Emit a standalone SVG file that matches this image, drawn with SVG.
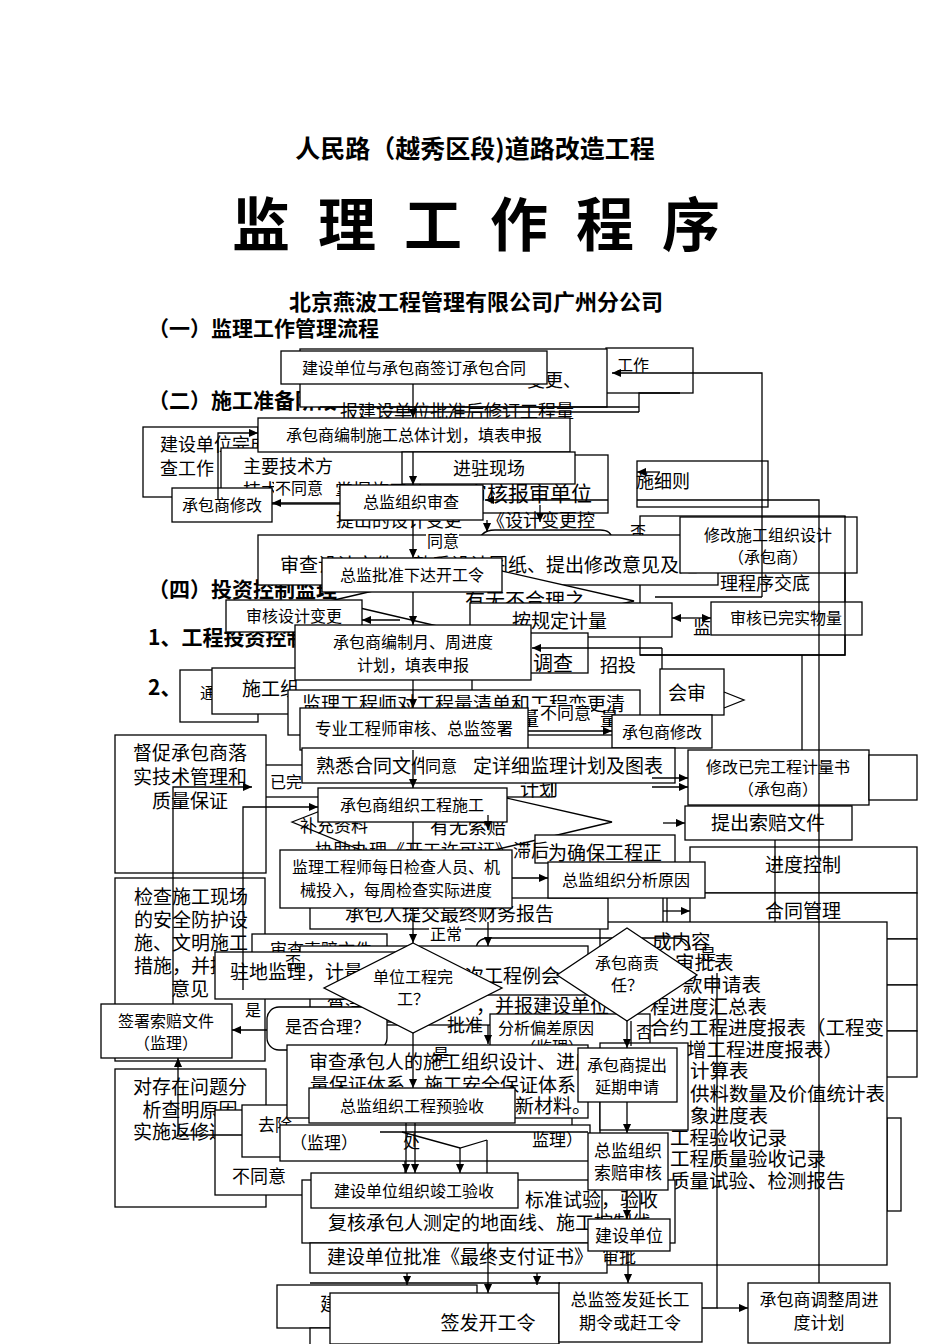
<svg xmlns="http://www.w3.org/2000/svg" width="950" height="1344" viewBox="0 0 950 1344">
<style>
.b{fill:#fff;stroke:#000;stroke-width:1.3}
.n{fill:none;stroke:#000;stroke-width:1.3}
.t{font-family:"Noto Sans CJK SC","Noto Sans CJK JP",sans-serif;fill:#000}
.h{font-weight:bold}
.c{text-anchor:middle}
.e{text-anchor:end}
.f16{font-size:16px}
.f17{font-size:17px}
.f18{font-size:18px}
.f19{font-size:19px}
.f21{font-size:21px}
.w{fill:#fff;stroke:none}
</style>
<defs>
<marker id="a" viewBox="0 0 10 10" refX="10" refY="5" markerWidth="10" markerHeight="9" orient="auto" markerUnits="userSpaceOnUse"><path d="M0,0.5 L10,5 L0,9.5z" fill="#000"/></marker>
</defs>
<rect width="950" height="1344" fill="#fff"/>

<g id="headings">
<text x="475" y="158" class="t h c" font-size="25">人民路（越秀区段)道路改造工程</text>
<g class="t h c" font-size="58">
<text x="261" y="246">监</text><text x="347" y="246">理</text><text x="433" y="246">工</text><text x="519" y="246">作</text><text x="605" y="246">程</text><text x="691" y="246">序</text>
</g>
<text x="476" y="310" class="t h c" font-size="22">北京燕波工程管理有限公司广州分公司</text>
<text x="148" y="336" class="t h f21">（一）监理工作管理流程</text>
<text x="148" y="408" class="t h f21">（二）施工准备阶段</text>
<text x="148" y="597" class="t h f21">（四）投资控制监理</text>
<text x="148" y="645" class="t h f21">1、工程投资控制</text>
<text x="148" y="695" class="t h f21">2、施工</text>
</g>

<g id="bg-upper">
<rect class="b" x="606" y="348" width="87" height="45"/><text x="617" y="371" class="t f16">工作</text>
<rect class="b" x="300" y="349" width="307" height="58"/><text x="527" y="387" class="t f18">变更、</text>
<text x="340" y="418" class="t f18">报建设单位批准后修订工程量</text>
<rect class="b" x="143" y="427" width="115" height="70"/>
<text x="160" y="451" class="t f18">建设单位完成</text><text x="160" y="475" class="t f18">查工作</text>
<rect class="b" x="221" y="448" width="300" height="56"/>
<text x="243" y="473" class="t f18">主要技术方</text><text x="243" y="497" class="t f18">技术</text><text x="335" y="497" class="t f18">掌握施工</text>
<rect class="b" x="420" y="455" width="188" height="58"/><text x="466" y="501" class="t" font-size="21">审核报审单位</text>
<rect class="b" x="637" y="461" width="131" height="46"/><text x="636" y="488" class="t f18">施细则</text>
<rect class="b" x="640" y="516" width="205" height="139"/>
<text x="336" y="527" class="t f18">提出的设计变更</text><text x="487" y="527" class="t f18">《设计变更控</text>
<path class="n" d="M478,548 Q478,530 495,530 L600,530 Q612,530 612,540"/>
<text x="630" y="538" class="t f16">否</text>
<rect class="b" x="258" y="535" width="460" height="50"/>
<text x="280" y="572" class="t f19">审查设计文件</text><text x="698" y="572" class="t f19 e">熟悉设计图纸、提出修改意见及建</text>
<text x="720" y="590" class="t f18">理程序交底</text>
<polygon class="b" points="330,601 480,566 634,601 480,636"/>
<text x="465" y="608" class="t" font-size="20">有无不合理之</text>
<rect class="b" x="470" y="603" width="202" height="34"/><text x="512" y="628" class="t f19">按规定计量</text>
<text x="693" y="634" class="t f18">监</text>
<rect class="b" x="455" y="633" width="133" height="40"/><text x="533" y="671" class="t" font-size="20">调查</text>
<text x="600" y="672" class="t f18">招投</text>
<rect class="b" x="180" y="670" width="78" height="52"/><text x="200" y="699" class="t f16">通</text>
<rect class="b" x="212" y="668" width="260" height="46"/><text x="242" y="696" class="t f19">施工组</text>
<rect class="b" x="660" y="669" width="64" height="46"/><text x="668" y="700" class="t f19">会审</text>
<polyline class="n" points="724,692 744,700 724,708"/>
<rect class="b" x="288" y="690" width="352" height="45"/>
<text x="302" y="711" class="t f19">监理工程师对工程量清单和工程变更清</text>
<text x="520" y="726" class="t f19">量</text><text x="600" y="726" class="t f19">量</text>
<polygon class="b" points="292,822 410,776 612,822 410,870"/>
<rect class="b" x="252" y="765" width="300" height="32"/><text x="270" y="788" class="t f16">已完</text>
<text x="520" y="796" class="t f19">计划</text>
<rect class="b" x="115" y="735" width="151" height="138"/>
<text x="190" y="760" class="t f19 c">督促承包商落</text><text x="190" y="784" class="t f19 c">实技术管理和</text><text x="190" y="808" class="t f19 c">质量保证</text>
<text x="300" y="832" class="t f17">补充资料</text>
<text x="430" y="834" class="t f19">有无索赔</text>
<rect class="b" x="535" y="835" width="140" height="28"/>
<text x="315" y="857" class="t f18">协助办理《开工许可证》滞后</text>
<text x="548" y="860" class="t f19">为确保工程正</text>
</g>

<g id="bg-right">
<rect class="b" x="690" y="847" width="227" height="46"/><text x="803" y="872" class="t f19 c">进度控制</text>
<rect class="b" x="690" y="893" width="227" height="46"/><text x="803" y="918" class="t f19 c">合同管理</text>
<rect class="b" x="690" y="939" width="227" height="46"/>
<rect class="b" x="690" y="985" width="227" height="46"/>
<rect class="b" x="690" y="1031" width="227" height="46"/>
<rect class="b" x="887" y="1118" width="14" height="93"/>
<rect class="b" x="600" y="922" width="287" height="343"/>
<g class="t" font-size="19.5">
<text x="652" y="949">成内容</text>
<text x="675" y="970">审批表</text>
<text x="683" y="992">款申请表</text>
<text x="650" y="1014">程进度汇总表</text>
<text x="650" y="1035">合约工程进度报表（工程变</text>
<text x="687" y="1057">增工程进度报表）</text>
<text x="690" y="1078">计算表</text>
<text x="690" y="1101">供料数量及价值统计表</text>
<text x="690" y="1123">象进度表</text>
<text x="670" y="1145">工程验收记录</text>
<text x="670" y="1166">工程质量验收记录</text>
<text x="670" y="1188">质量试验、检测报告</text>
</g>
</g>

<g id="bg-lower">
<rect class="b" x="310" y="898" width="298" height="31"/><text x="345" y="921" class="t f19">承包人提交最终财务报告</text>
<rect class="b" x="115" y="878" width="150" height="183"/>
<text x="134" y="904" class="t f19">检查施工现场</text><text x="134" y="927" class="t f19">的安全防护设</text><text x="134" y="950" class="t f19">施、文明施工</text><text x="134" y="973" class="t f19">措施，并提出</text><text x="190" y="996" class="t f19 c">意见</text>
<rect class="b" x="252" y="934" width="135" height="30"/><text x="270" y="956" class="t f17">审查索赔文件</text>
<path class="n" d="M476,950 Q476,938 490,938 L675,938 Q690,938 690,950"/>
<rect class="b" x="300" y="946" width="288" height="50"/><text x="465" y="983" class="t f19">次工程例会</text>
<rect class="b" x="330" y="995" width="293" height="30"/><text x="476" y="1013" class="t f19">，并报建设单位</text>
<rect class="b" x="490" y="1014" width="160" height="50"/><text x="498" y="1034" class="t f16">分析偏差原因</text><text x="520" y="1053" class="t f16">（监理）</text>
<rect class="b" x="310" y="990" width="110" height="32"/><text x="327" y="1013" class="t f18">算清</text>
<rect class="b" x="267" y="1007" width="120" height="43" rx="12"/><text x="285" y="1033" class="t f17">是否合理？</text>
<rect class="b" x="215" y="952" width="195" height="47"/>
<text x="230" y="979" class="t f19">驻地监理，计量</text>
<rect class="b" x="115" y="1069" width="151" height="138"/>
<text x="190" y="1094" class="t f19 c">对存在问题分</text><text x="190" y="1117" class="t f19 c">析查明原因</text><text x="190" y="1139" class="t f19 c">实施返修返工</text>
<rect class="b" x="215" y="1110" width="190" height="85"/>
<rect class="b" x="242" y="1105" width="330" height="52"/><text x="258" y="1131" class="t f17">去除</text>
<rect class="b" x="280" y="1125" width="310" height="36"/><text x="290" y="1149" class="t f17">（监理）</text>
<text x="403" y="1148" class="t f17">处</text><text x="532" y="1146" class="t f17">监理）</text>
<rect class="b" x="287" y="1045" width="301" height="73"/>
<text x="309" y="1069" class="t f19">审查承包人的施工组织设计、进度</text>
<text x="310" y="1092" class="t f19">量保证体系、施工安全保证体系</text>
<text x="515" y="1113" class="t f19">新材料。</text>
<rect class="b" x="600" y="1043" width="88" height="87"/>
<rect class="b" x="640" y="1180" width="35" height="63"/>
<rect class="b" x="302" y="1180" width="300" height="63"/>
<text x="328" y="1230" class="t f19">复核承包人测定的地面线、施工控制线</text>
<text x="525" y="1207" class="t f19">标准试验，验收</text>
<rect class="b" x="310" y="1243" width="297" height="30"/>
<text x="327" y="1264" class="t f19">建设单位批准《最终支付证书》</text>
<text x="602" y="1263" class="t f17">审批</text>
<rect class="b" x="277" y="1285" width="200" height="43"/><text x="320" y="1311" class="t f19">建</text>
<rect class="b" x="310" y="1328" width="60" height="20"/>
</g>

<g id="n-contract"><rect class="b" x="281" y="351" width="266" height="33"/><text x="414" y="374" class="t f16 c">建设单位与承包商签订承包合同</text></g>
<g id="n-plan"><rect class="b" x="258" y="418" width="312" height="34"/><text x="414" y="441" class="t f16 c">承包商编制施工总体计划，填表申报</text></g>
<g id="n-enter"><rect class="b" x="402" y="452" width="173" height="32"/><text x="489" y="475" class="t f18 c">进驻现场</text></g>
<g id="n-modify1"><rect class="b" x="172" y="488" width="100" height="34"/><text x="222" y="511" class="t f16 c">承包商修改</text></g>
<g id="n-review"><rect class="b" x="340" y="485" width="143" height="35"/><text x="411" y="508" class="t f16 c">总监组织审查</text></g>
<g id="n-order"><rect class="b" x="322" y="558" width="180" height="34"/><text x="412" y="581" class="t f16 c">总监批准下达开工令</text></g>
<g id="n-modorg"><rect class="b" x="680" y="517" width="177" height="56"/><text x="768" y="541" class="t f16 c">修改施工组织设计</text><text x="768" y="563" class="t f16 c">（承包商）</text></g>
<g id="n-chgrev"><rect class="b" x="226" y="600" width="136" height="32"/><text x="294" y="622" class="t f16 c">审核设计变更</text></g>
<g id="n-qty"><rect class="b" x="711" y="602" width="151" height="33"/><text x="786" y="624" class="t f16 c">审核已完实物量</text></g>
<g id="n-monthplan"><rect class="b" x="295" y="625" width="236" height="55"/><text x="413" y="648" class="t f16 c">承包商编制月、周进度</text><text x="413" y="671" class="t f16 c">计划，填表申报</text></g>
<g id="n-sign"><rect class="b" x="300" y="708" width="228" height="42"/><text x="414" y="735" class="t c" font-size="16.5">专业工程师审核、总监签署</text></g>
<g id="n-modify2"><rect class="b" x="612" y="715" width="100" height="33"/><text x="662" y="738" class="t f16 c">承包商修改</text></g>
<g id="n-familiar"><rect class="b" x="302" y="748" width="373" height="35"/><text x="316" y="773" class="t f19">熟悉合同文件</text><text x="663" y="773" class="t f19 e">定详细监理计划及图表</text></g>
<g id="n-modqty"><rect class="b" x="688" y="750" width="181" height="55"/><rect class="b" x="869" y="755" width="48" height="45"/><text x="778" y="773" class="t f16 c">修改已完工程计量书</text><text x="778" y="795" class="t f16 c">（承包商）</text></g>
<g id="n-build"><rect class="b" x="318" y="788" width="189" height="34"/><text x="412" y="811" class="t f16 c">承包商组织工程施工</text></g>
<g id="n-claim"><rect class="b" x="685" y="806" width="167" height="34"/><text x="768" y="830" class="t f19 c">提出索赔文件</text></g>
<g id="n-daily"><rect class="b" x="280" y="850" width="232" height="58"/><text x="396" y="873" class="t f16 c">监理工程师每日检查人员、机</text><text x="396" y="896" class="t f16 c">械投入，每周检查实际进度</text></g>
<g id="n-analyse"><rect class="b" x="548" y="862" width="157" height="36"/><text x="626" y="886" class="t f16 c">总监组织分析原因</text></g>
<g id="n-done"><polygon class="b" points="413,943 502,988 413,1033 324,988"/><text x="413" y="983" class="t f16 c">单位工程完</text><text x="413" y="1005" class="t f16 c">工？</text></g>
<g id="n-resp"><polygon class="b" points="627,928 697,975 627,1021 557,975"/><text x="627" y="969" class="t f16 c">承包商责</text><text x="627" y="991" class="t f16 c">任？</text></g>
<g id="n-signclaim"><rect class="b" x="101" y="1004" width="131" height="54"/><text x="166" y="1027" class="t f16 c">签署索赔文件</text><text x="166" y="1049" class="t f16 c">（监理）</text></g>
<g id="n-delay"><rect class="b" x="578" y="1048" width="99" height="54"/><text x="627" y="1071" class="t f16 c">承包商提出</text><text x="627" y="1093" class="t f16 c">延期申请</text></g>
<g id="n-preacc"><rect class="b" x="309" y="1088" width="206" height="35"/><text x="412" y="1112" class="t f16 c">总监组织工程预验收</text></g>
<g id="n-claimrev"><rect class="b" x="588" y="1133" width="80" height="57"/><text x="628" y="1157" class="t f17 c">总监组织</text><text x="628" y="1179" class="t f17 c">索赔审核</text></g>
<g id="n-finalacc"><rect class="b" x="311" y="1173" width="207" height="35"/><text x="414" y="1197" class="t f16 c">建设单位组织竣工验收</text></g>
<g id="n-owner"><rect class="b" x="588" y="1219" width="82" height="32"/><text x="629" y="1242" class="t f17 c">建设单位</text></g>
<g id="n-start"><rect class="b" x="330" y="1293" width="229" height="51"/><text x="488" y="1330" class="t f19 c">签发开工令</text></g>
<g id="n-extend"><rect class="b" x="559" y="1283" width="143" height="59"/><text x="630" y="1306" class="t f17 c">总监签发延长工</text><text x="630" y="1329" class="t f17 c">期令或赶工令</text></g>
<g id="n-adjust"><rect class="b" x="748" y="1283" width="142" height="60"/><text x="819" y="1306" class="t f17 c">承包商调整周进</text><text x="819" y="1329" class="t f17 c">度计划</text></g>

<g id="connectors">
<line class="n" x1="413" y1="384" x2="413" y2="418" marker-end="url(#a)"/>
<line class="n" x1="413" y1="452" x2="413" y2="485" marker-end="url(#a)"/>
<line class="n" x1="413" y1="520" x2="413" y2="558" marker-end="url(#a)"/>
<line class="n" x1="413" y1="592" x2="413" y2="625" marker-end="url(#a)"/>
<line class="n" x1="413" y1="680" x2="413" y2="708" marker-end="url(#a)"/>
<line class="n" x1="413" y1="750" x2="413" y2="788" marker-end="url(#a)"/>
<line class="n" x1="413" y1="822" x2="413" y2="850"/>
<line class="n" x1="413" y1="908" x2="413" y2="943" marker-end="url(#a)"/>
<line class="n" x1="413" y1="1033" x2="413" y2="1088" marker-end="url(#a)"/>
<line class="n" x1="406" y1="1123" x2="406" y2="1173" marker-end="url(#a)"/>
<line class="n" x1="415" y1="1123" x2="415" y2="1173" marker-end="url(#a)"/>
<line class="n" x1="340" y1="503" x2="272" y2="503" marker-end="url(#a)"/>
<polyline class="n" points="218,500 218,433 258,433" marker-end="url(#a)"/>
<polyline class="n" points="762,597 762,373 612,373" marker-end="url(#a)"/>
<line class="n" x1="655" y1="597" x2="762" y2="597"/>
<line class="n" x1="320" y1="407" x2="639" y2="407"/>
<line class="n" x1="380" y1="412" x2="639" y2="412"/>
<polyline class="n" points="680,393 639,393 639,412"/>
<line class="n" x1="660" y1="472" x2="637" y2="472" marker-end="url(#a)"/>
<line class="n" x1="608" y1="500" x2="485" y2="500" marker-end="url(#a)"/>
<line class="n" x1="540" y1="505" x2="540" y2="522" marker-end="url(#a)"/>
<line class="n" x1="487" y1="520" x2="487" y2="532" marker-end="url(#a)"/>
<polyline class="n" points="637,500 819,500 819,1283"/>
<line class="n" x1="400" y1="620" x2="362" y2="620" marker-end="url(#a)"/>
<line class="n" x1="690" y1="618" x2="672" y2="618" marker-end="url(#a)"/>
<line class="n" x1="690" y1="618" x2="711" y2="618" marker-end="url(#a)"/>
<line class="n" x1="662" y1="648" x2="532" y2="648" marker-end="url(#a)"/>
<line class="n" x1="662" y1="648" x2="662" y2="669"/>
<line class="n" x1="528" y1="731" x2="612" y2="731" marker-end="url(#a)"/>
<polyline class="n" points="173,1004 173,787 252,787" marker-end="url(#a)"/>
<polyline class="n" points="243,990 243,807 318,807" marker-end="url(#a)"/>
<line class="n" x1="652" y1="778" x2="688" y2="778" marker-end="url(#a)"/>
<line class="n" x1="652" y1="787" x2="688" y2="787" marker-end="url(#a)"/>
<line class="n" x1="663" y1="823" x2="685" y2="823" marker-end="url(#a)"/>
<line class="n" x1="488" y1="815" x2="488" y2="830" marker-end="url(#a)"/>
<line class="n" x1="512" y1="878" x2="548" y2="878" marker-end="url(#a)"/>
<polyline class="n" points="845,516 845,655 640,655"/>
<line class="n" x1="802" y1="655" x2="802" y2="750"/>
<line class="n" x1="775" y1="840" x2="775" y2="922"/>
<line class="n" x1="663" y1="911" x2="690" y2="911" marker-end="url(#a)"/>
<line class="n" x1="663" y1="898" x2="663" y2="922"/>
<line class="n" x1="667" y1="898" x2="667" y2="922"/>
<line class="n" x1="488" y1="922" x2="488" y2="946" marker-end="url(#a)"/>
<line class="n" x1="488" y1="1025" x2="488" y2="1044" marker-end="url(#a)"/>
<line class="n" x1="627" y1="1021" x2="627" y2="1048" marker-end="url(#a)"/>
<line class="n" x1="631" y1="1021" x2="631" y2="1046"/>
<line class="n" x1="627" y1="1102" x2="627" y2="1133" marker-end="url(#a)"/>
<line class="n" x1="627" y1="1190" x2="627" y2="1219" marker-end="url(#a)"/>
<line class="n" x1="628" y1="1251" x2="628" y2="1283" marker-end="url(#a)"/>
<line class="n" x1="267" y1="1030" x2="232" y2="1030" marker-end="url(#a)"/>
<polyline class="n" points="242,1135 178,1135 178,1058" marker-end="url(#a)"/>
<polyline class="n" points="402,1132 460,1148 487,1140"/>
<line class="n" x1="380" y1="1132" x2="588" y2="1132"/>
<line class="n" x1="460" y1="1148" x2="460" y2="1173" marker-end="url(#a)"/>
<line class="n" x1="487" y1="1140" x2="487" y2="1173"/>
<line class="n" x1="407" y1="1273" x2="407" y2="1285" marker-end="url(#a)"/>
<line class="n" x1="537" y1="1273" x2="537" y2="1285" marker-end="url(#a)"/>
<line class="n" x1="488" y1="1243" x2="488" y2="1293" marker-end="url(#a)"/>
<line class="n" x1="310" y1="1283" x2="560" y2="1283"/>
<polyline class="n" points="717,973 717,1308 702,1308"/>
<line class="n" x1="717" y1="1308" x2="748" y2="1308" marker-end="url(#a)"/>
</g>

<g id="labels">
<rect class="w" x="426" y="532" width="33" height="19"/><text x="427" y="547" class="t f16">同意</text>
<rect class="w" x="274" y="478" width="52" height="19"/><text x="275" y="494" class="t f16">不同意</text>
<rect class="w" x="538" y="704" width="53" height="19"/><text x="540" y="719" class="t f17">不同意</text>
<rect class="w" x="424" y="755" width="36" height="20"/><text x="425" y="772" class="t f16">同意</text>
<rect class="w" x="429" y="925" width="36" height="19"/><text x="430" y="940" class="t f16">正常</text>
<text x="285" y="968" class="t f16">否</text>
<text x="245" y="1016" class="t f16">是</text>
<text x="447" y="1032" class="t f18">批准</text>
<text x="433" y="1060" class="t f16">是</text>
<text x="700" y="960" class="t f16">是</text>
<text x="636" y="1038" class="t f16">否</text>
<rect class="w" x="231" y="1166" width="55" height="22"/><text x="232" y="1183" class="t f18">不同意</text>
</g>
</svg>
